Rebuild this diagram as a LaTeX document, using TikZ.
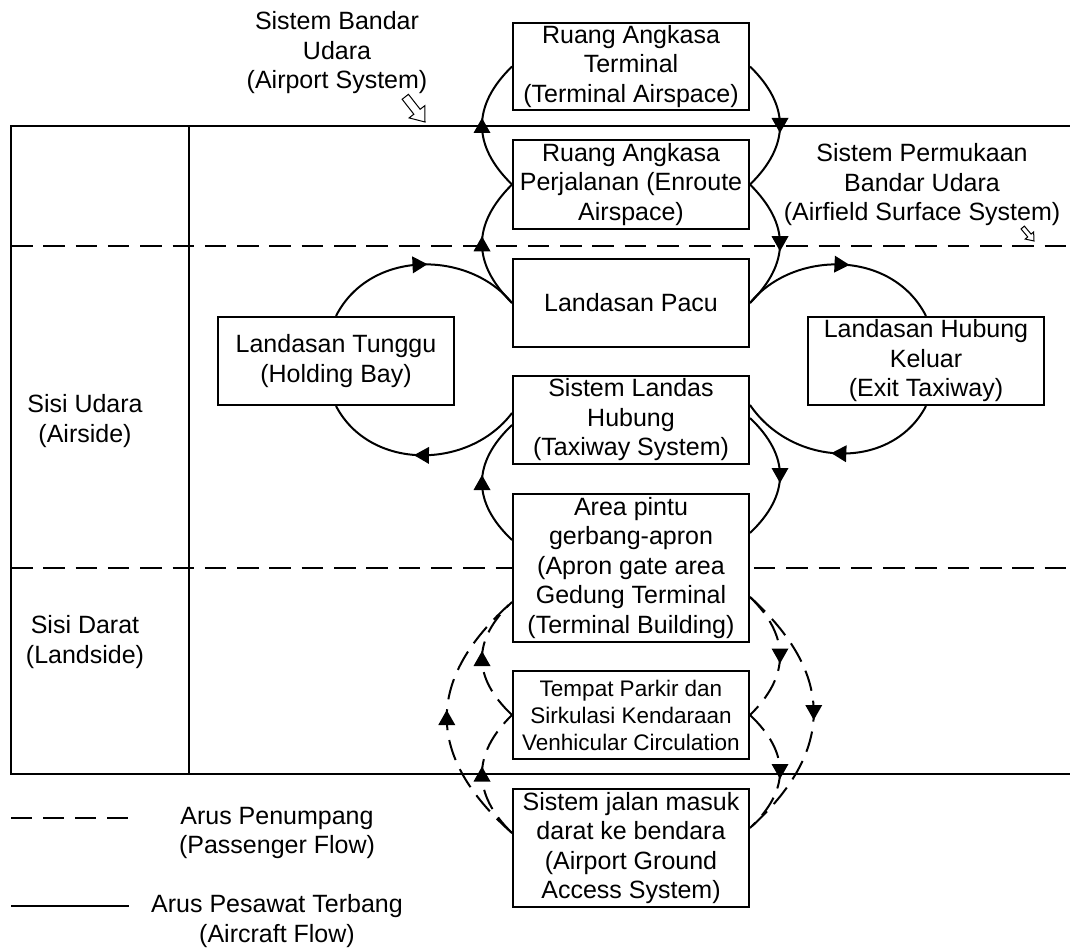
\documentclass[tikz,border=0pt]{standalone}
\usepackage{fontspec}
\setmainfont{Liberation Sans}
\usetikzlibrary{decorations.markings,calc}

\begin{document}
\begin{tikzpicture}[x=1pt,y=-1pt,
  every node/.style={font=\fontsize{25pt}{29.5pt}\selectfont, align=center, inner sep=0pt},
  rule/.style={line width=2pt},
  zoneline/.style={line width=2pt, dash pattern=on 21.5pt off 10.8pt},
  box/.style={draw, line width=2pt, fill=white, minimum width=236pt},
  midarrow/.style={postaction={decorate},
    decoration={markings, mark=at position 0.5 with {\fill (7.5pt,0pt) -- (-7.5pt,8.5pt) -- (-7.5pt,-8.5pt) -- cycle;}}},
  flow/.style={line width=2pt, midarrow},
  pflow/.style={line width=2pt, dash pattern=on 21pt off 10pt, midarrow},
  hollow/.style={draw, fill=white, line width=1pt, line join=miter},
]
\useasboundingbox (0,0) rectangle (1070,949);

% frame of the airport system
\coordinate (fTL) at (11,126);
\coordinate (fTR) at (1070,126);
\coordinate (fBL) at (11,774);
\coordinate (fBR) at (1070,774);
\coordinate (iT) at (189,126);
\coordinate (iB) at (189,774);
\draw[rule] (fTR) -- (fTL) -- (fBL) -- (fBR);
\draw[rule] (iT) -- (iB);

% zone boundaries
\coordinate (z1L) at (11,246);
\coordinate (z1R) at (1070,246);
\coordinate (z2L) at (11,568);
\coordinate (z2R) at (1070,568);
\draw[zoneline] (z1L) -- (z1R);
\draw[zoneline] (z2L) -- (z2R);

% components
\node[box, minimum height=87pt] (term) at (631,66.5) {Ruang Angkasa\\Terminal\\(Terminal Airspace)};
\node[box, minimum height=89pt] (enroute) at (631,184.5) {Ruang Angkasa\\Perjalanan (Enroute\\Airspace)};
\node[box, minimum height=88pt] (pacu) at (631,303) {Landasan Pacu};
\node[box, minimum height=88pt] (tunggu) at (336,361) {Landasan Tunggu\\(Holding Bay)};
\node[box, minimum height=88pt] (exit) at (926,361) {Landasan Hubung\\Keluar\\(Exit Taxiway)};
\node[box, minimum height=88pt] (taxi) at (631,420) {Sistem Landas\\Hubung\\(Taxiway System)};
\node[box, minimum height=148pt] (apron) at (631,568) {Area pintu\\gerbang-apron\\(Apron gate area\\Gedung Terminal\\(Terminal Building)};
\node[box, minimum height=88pt, font=\fontsize{22.5pt}{27pt}\selectfont] (parkir) at (631,715) {Tempat Parkir dan\\Sirkulasi Kendaraan\\Venhicular Circulation};
\node[box, minimum height=118pt] (jalan) at (631,848) {Sistem jalan masuk\\darat ke bendara\\(Airport Ground\\Access System)};

% side and zone labels
\node (lblAirport) at (337,53) {Sistem Bandar\\Udara\\(Airport System)};
\node (lblAirfield) at (922,185) {Sistem Permukaan\\Bandar Udara\\(Airfield Surface System)};
\node (lblAirside) at (85,421) {Sisi Udara\\(Airside)};
\node (lblLandside) at (85,642) {Sisi Darat\\(Landside)};

% pointer arrows
\begin{scope}[shift={(425,122)}, rotate=-52]
  \draw[hollow] (0pt,0pt) -- (-13pt,10pt) -- (-13pt,4pt) -- (-32pt,4pt) -- (-32pt,-4pt) -- (-13pt,-4pt) -- (-13pt,-10pt) -- cycle;
\end{scope}
\begin{scope}[shift={(1034,241)}, rotate=-50, scale=0.55]
  \draw[hollow] (0pt,0pt) -- (-13pt,10pt) -- (-13pt,4pt) -- (-32pt,4pt) -- (-32pt,-4pt) -- (-13pt,-4pt) -- (-13pt,-10pt) -- cycle;
\end{scope}

% attachment points
\coordinate (taxiLU) at ([yshift=7pt]taxi.west);
\coordinate (taxiLL) at ([yshift=-5pt]taxi.west);
\coordinate (taxiRU) at ([yshift=15pt]taxi.east);
\coordinate (taxiRL) at ([yshift=2pt]taxi.east);
\coordinate (apronLU) at ([yshift=28pt]apron.west);
\coordinate (apronRU) at ([yshift=35pt]apron.east);
\coordinate (apronLD) at ([yshift=-34pt]apron.west);
\coordinate (apronRD) at ([yshift=-29pt]apron.east);
\coordinate (jalanL) at ([yshift=15pt]jalan.west);
\coordinate (jalanR) at ([yshift=20pt]jalan.east);

% aircraft flow
\draw[flow] (enroute.west) .. controls +(-40,-39) and +(-40,39) .. (term.west);
\draw[flow] (pacu.west) .. controls +(-40,-40) and +(-40,40) .. (enroute.west);
\draw[flow] (term.east) .. controls +(40,39) and +(40,-39) .. (enroute.east);
\draw[flow] (enroute.east) .. controls +(40,40) and +(40,-40) .. (pacu.east);
\draw[flow] (tunggu.north) .. controls +(34,-67) and +(-43,-53) .. (pacu.west);
\draw[flow] (taxiLU) .. controls +(-43,57) and +(34,65) .. (tunggu.south);
\draw[flow] (pacu.east) .. controls +(43,-53) and +(-34,-67) .. (exit.north);
\draw[flow] (exit.south) .. controls +(-34,65) and +(43,63) .. (taxiRU);
\draw[flow] (taxiRL) .. controls +(40,38) and +(40,-38) .. (apronRU);
\draw[flow] (apronLU) .. controls +(-40,-38) and +(-40,38) .. (taxiLL);

% passenger flow
\draw[pflow] (jalanL) .. controls +(-87,-77) and +(-87,77) .. (apronLD);
\draw[pflow] (parkir.west) .. controls +(-40,-38) and +(-40,38) .. (apronLD);
\draw[pflow] (jalanL) .. controls +(-40,-39) and +(-40,39) .. (parkir.west);
\draw[pflow] (apronRD) .. controls +(85,77) and +(85,-77) .. (jalanR);
\draw[pflow] (apronRD) .. controls +(40,39) and +(40,-39) .. (parkir.east);
\draw[pflow] (parkir.east) .. controls +(40,38) and +(40,-38) .. (jalanR);

% legend
\coordinate (lgPa) at (11,818);
\coordinate (lgPb) at (129,818);
\coordinate (lgAa) at (11,906);
\coordinate (lgAb) at (129,906);
\draw[line width=2pt, dash pattern=on 21pt off 11pt] (lgPa) -- (lgPb);
\draw[rule] (lgAa) -- (lgAb);
\node (lgPtext) at (277,833) {Arus Penumpang\\(Passenger Flow)};
\node (lgAtext) at (277,921) {Arus Pesawat Terbang\\(Aircraft Flow)};
\end{tikzpicture}
\end{document}
